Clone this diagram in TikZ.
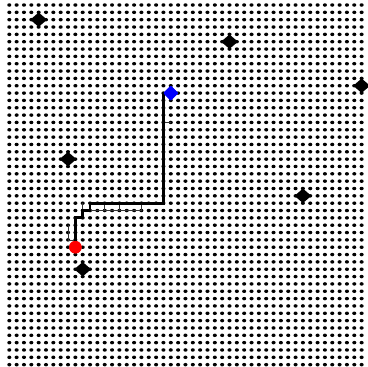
\documentclass[tikz,border=0pt]{standalone}
\usetikzlibrary{shapes.geometric}
\begin{document}
\begin{tikzpicture}[x=1pt,y=-1pt,
  gdot/.style={fill=black},
  blackdia/.style={diamond,fill=black,draw=black,line width=1.6pt,line join=round,inner sep=0pt,minimum width=15pt,minimum height=13pt},
  bluedia/.style={diamond,fill=blue,draw=blue,line width=1.6pt,line join=round,inner sep=0pt,minimum width=13.5pt,minimum height=13.5pt},
  redcirc/.style={circle,fill=red,inner sep=0pt,minimum size=12.5pt},
  route/.style={line width=2.8pt,line join=miter},
  branch/.style={line width=0.6pt,black!80}]
\useasboundingbox (0,0) rectangle (367,367);
\begin{scope}[shift={(9.3,5)},x=7.34pt,y=-7.34pt]
  \foreach \i in {0,...,48}
    \foreach \j in {0,...,49}
      \fill[gdot] (\i,\j) ellipse [x radius=2.05pt, y radius=1.75pt];
  % tree branches
  \coordinate (b1) at (9,32);
  \coordinate (b2) at (8,32);
  \coordinate (b3) at (8,30);
  \coordinate (c1) at (10,28);
  \coordinate (c2) at (10,27);
  \coordinate (d1) at (11,28);
  \coordinate (d2) at (18,28);
  \coordinate (e1) at (13,27);
  \coordinate (e2) at (13,28);
  \coordinate (f1) at (15,27);
  \coordinate (f2) at (15,28);
  \coordinate (g1) at (18,27);
  \coordinate (h1) at (21,16);
  \coordinate (h2) at (22,16);
  \draw[branch] (b1) -- (b2) -- (b3);
  \draw[branch] (c1) -- (c2);
  \draw[branch] (d1) -- (d2);
  \draw[branch] (e1) -- (e2);
  \draw[branch] (f1) -- (f2);
  \draw[branch] (g1) -- (d2);
  \draw[branch] (h1) -- (h2);
  % route
  \coordinate (p1) at (9,29);
  \coordinate (p2) at (10,29);
  \coordinate (p3) at (10,28);
  \coordinate (p4) at (11,28);
  \coordinate (p5) at (11,27);
  \coordinate (p6) at (21,27);
  \coordinate (p7) at (21,12);
  \node[redcirc] (start) at (9,33) {};
  \node[bluedia] (goal) at (22,12) {};
  \draw[route] (start.center) -- (p1) -- (p2) -- (p3) -- (p4) -- (p5) -- (p6) -- (p7) -- (goal.center);
  \node[redcirc] at (start) {};
  \node[bluedia] at (goal) {};
  % obstacles
  \node[blackdia] (o1) at (4,2) {};
  \node[blackdia] (o2) at (30,5) {};
  \node[blackdia] (o3) at (48,11) {};
  \node[blackdia] (o4) at (8,21) {};
  \node[blackdia] (o5) at (40,26) {};
  \node[blackdia] (o6) at (10,36) {};
\end{scope}
\end{tikzpicture}
\end{document}
